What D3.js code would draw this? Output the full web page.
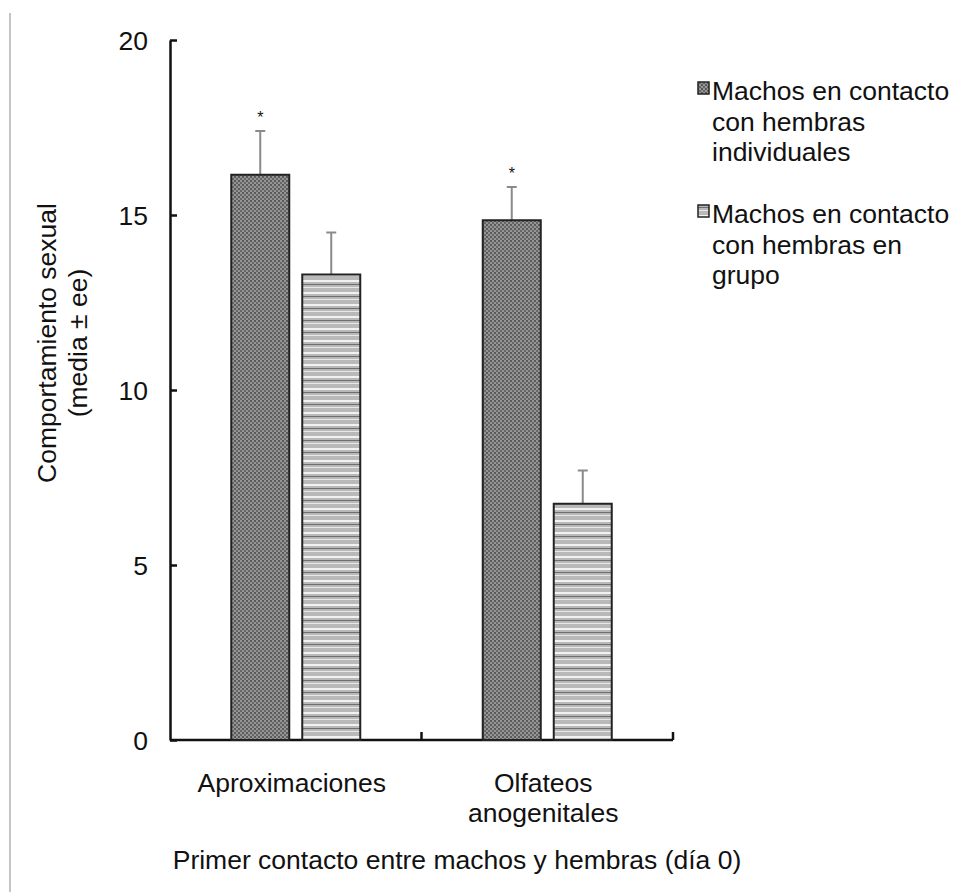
<!DOCTYPE html>
<html>
<head>
<meta charset="utf-8">
<script src="https://cdn.jsdelivr.net/npm/d3@7"></script>
<style>
  body { margin: 0; background: #fff; }
  text { font-family: "Liberation Sans", Arial, sans-serif; fill: #111; }
</style>
</head>
<body>
<div id="chart"></div>
<script>
// data
var categories = [["Aproximaciones"], ["Olfateos", "anogenitales"]];
var seriesNames = ["individuales", "grupo"];
var meanIndiv = [16.15, 14.85];
var errIndiv = [1.25, 0.95];
var meanGrupo = [13.3, 6.75];
var errGrupo = [1.2, 0.95];
var signif = [true, true];
var yTicks = [0, 5, 10, 15, 20];
var legendLines = [
    ["Machos en contacto", "con hembras", "individuales"],
    ["Machos en contacto", "con hembras en", "grupo"]
];

var W = 958, H = 892;
var margin = {top: 40, left: 170};
var plotW = 503, plotH = 700;
var fs = "26.5px";

var svg = d3.select("#chart").append("svg")
    .attr("width", W)
    .attr("height", H);

// patterns
var defs = svg.append("defs");
var p1 = defs.append("pattern")
    .attr("id", "dots")
    .attr("patternUnits", "userSpaceOnUse")
    .attr("width", 4).attr("height", 4);
p1.append("rect").attr("width", 4).attr("height", 4).attr("fill", "#959595");
p1.append("rect").attr("width", 2).attr("height", 2).attr("fill", "#5a5a5a");
p1.append("rect").attr("x", 2).attr("y", 2).attr("width", 2).attr("height", 2).attr("fill", "#666");

var p2 = defs.append("pattern")
    .attr("id", "stripes")
    .attr("patternUnits", "userSpaceOnUse")
    .attr("width", 8).attr("height", 12);
p2.append("rect").attr("width", 8).attr("height", 12).attr("fill", "#b9b9b9");
p2.append("rect").attr("y", 0).attr("width", 8).attr("height", 2).attr("fill", "#f2f2f2");
p2.append("rect").attr("y", 4).attr("width", 8).attr("height", 1).attr("fill", "#6e6e6e");
p2.append("rect").attr("y", 7).attr("width", 8).attr("height", 1).attr("fill", "#e8e8e8");

// left page border
svg.append("line")
    .attr("x1", 10).attr("x2", 10)
    .attr("y1", 13).attr("y2", H)
    .style("stroke", "#c4c4c4")
    .style("stroke-width", 2);

var g = svg.append("g")
    .attr("transform", "translate(" + margin.left + "," + margin.top + ")");

var y = d3.scaleLinear().domain([0, 20]).range([plotH, 0]);
var x0 = d3.scaleBand().domain(d3.range(categories.length)).range([0, plotW]);
var barW = 58, gap = 13;

// y axis
var yAxis = d3.axisLeft(y).tickValues(yTicks).tickSizeInner(-7).tickSizeOuter(0).tickPadding(22);
var yg = g.append("g").call(yAxis);
yg.select(".domain").style("stroke", "#111").style("stroke-width", 2.5);
yg.selectAll(".tick line").style("stroke", "#111").style("stroke-width", 2.5);
yg.selectAll(".tick text").style("font-size", fs).attr("dy", "0.35em");

// x axis
g.append("line")
    .attr("x1", 0).attr("x2", plotW)
    .attr("y1", plotH).attr("y2", plotH)
    .style("stroke", "#111").style("stroke-width", 2.5);
g.selectAll(".xtick")
    .data(d3.range(categories.length))
    .enter().append("line")
    .attr("x1", function(d) { return x0(d) + x0.bandwidth(); })
    .attr("x2", function(d) { return x0(d) + x0.bandwidth(); })
    .attr("y1", plotH).attr("y2", plotH - 8)
    .style("stroke", "#111").style("stroke-width", 2.5);

// bars
var rows = categories.map(function(c, i) {
    return [
        {cat: i, k: 0, v: meanIndiv[i], e: errIndiv[i], fill: "url(#dots)"},
        {cat: i, k: 1, v: meanGrupo[i], e: errGrupo[i], fill: "url(#stripes)"}
    ];
});
var bars = d3.merge(rows);

function barX(d) {
    var c = x0(d.cat) + x0.bandwidth() / 2;
    return d.k == 0 ? c - gap / 2 - barW : c + gap / 2;
}

// error bars
g.selectAll(".err")
    .data(bars)
    .enter().append("line")
    .attr("x1", function(d) { return barX(d) + barW / 2; })
    .attr("x2", function(d) { return barX(d) + barW / 2; })
    .attr("y1", function(d) { return y(d.v); })
    .attr("y2", function(d) { return y(d.v + d.e); })
    .style("stroke", "#8a8a8a").style("stroke-width", 2);
g.selectAll(".cap")
    .data(bars)
    .enter().append("line")
    .attr("x1", function(d) { return barX(d) + barW / 2 - 5; })
    .attr("x2", function(d) { return barX(d) + barW / 2 + 5; })
    .attr("y1", function(d) { return y(d.v + d.e); })
    .attr("y2", function(d) { return y(d.v + d.e); })
    .style("stroke", "#8a8a8a").style("stroke-width", 2);

g.selectAll(".bar")
    .data(bars)
    .enter().append("rect")
    .attr("x", barX)
    .attr("y", function(d) { return y(d.v); })
    .attr("width", barW)
    .attr("height", function(d) { return plotH - y(d.v); })
    .style("fill", function(d) { return d.fill; })
    .style("stroke", "#222")
    .style("stroke-width", 2);

// asterisks
g.selectAll(".star")
    .data(bars.filter(function(d) { return d.k == 0 && signif[d.cat]; }))
    .enter().append("text")
    .attr("x", function(d) { return barX(d) + barW / 2; })
    .attr("y", function(d) { return y(d.v + d.e) - 8; })
    .attr("text-anchor", "middle")
    .style("font-size", "16px")
    .text("*");

// category labels
var catLab = g.selectAll(".cat")
    .data(categories)
    .enter().append("text")
    .attr("text-anchor", "middle")
    .attr("x", function(d, i) { return x0(i) + x0.bandwidth() / 2 - 4; })
    .attr("y", plotH + 52)
    .style("font-size", fs);
catLab.selectAll("tspan")
    .data(function(d) { return d; })
    .enter().append("tspan")
    .attr("x", function() { return d3.select(this.parentNode).attr("x"); })
    .attr("dy", function(d, i) { return i == 0 ? 0 : 30; })
    .text(function(d) { return d; });

// x title
svg.append("text")
    .attr("x", 457).attr("y", 869)
    .attr("text-anchor", "middle")
    .style("font-size", fs)
    .text("Primer contacto entre machos y hembras (día 0)");

// y title
var yt = svg.append("text")
    .attr("transform", "translate(56,343) rotate(-90)")
    .attr("text-anchor", "middle")
    .style("font-size", fs);
yt.append("tspan").attr("x", 0).attr("dy", 0).text("Comportamiento sexual");
yt.append("tspan").attr("x", 0).attr("dy", 31).text("(media ± ee)");

// legend
var legend = svg.append("g").attr("transform", "translate(697,80)");
var li = legend.selectAll(".li")
    .data(legendLines)
    .enter().append("g")
    .attr("transform", function(d, i) { return "translate(0," + (i * 123) + ")"; });
li.append("rect")
    .attr("x", 1).attr("y", 2)
    .attr("width", 11).attr("height", 12)
    .style("fill", function(d, i) { return i == 0 ? "url(#dots)" : "url(#stripes)"; })
    .style("stroke", "#222").style("stroke-width", 1.5);
var lt = li.append("text").style("font-size", fs);
lt.selectAll("tspan")
    .data(function(d) { return d; })
    .enter().append("tspan")
    .attr("x", 15)
    .attr("y", function(d, i) { return 20 + i * 30.5; })
    .text(function(d) { return d; });
</script>
</body>
</html>
